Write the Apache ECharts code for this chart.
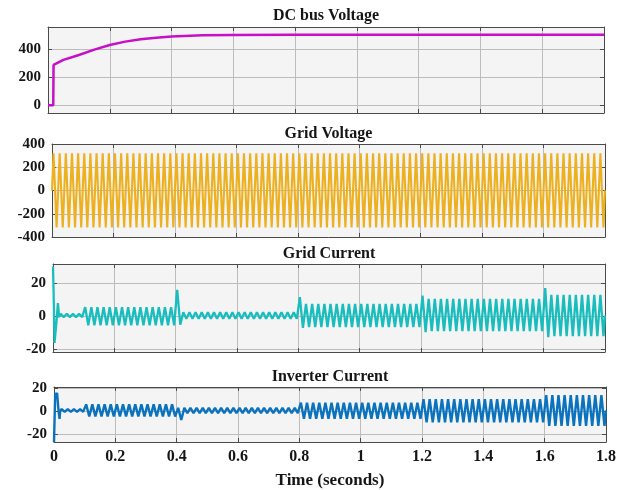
<!DOCTYPE html>
<html>
<head>
<meta charset="utf-8">
<script src="https://cdn.jsdelivr.net/npm/echarts@6/dist/echarts.min.js"></script>
<style>
html, body { margin: 0; padding: 0; background: #fff; }
#chart { width: 621px; height: 490px; }
</style>
</head>
<body>
<div id="chart"></div>
<script>
// shared time axis (seconds)
const tEnd = 1.8
const gridFreq = 50
const xTickStep = 0.2

// DC bus voltage
const dcTime = [0, 0.017, 0.018, 0.05, 0.1, 0.15, 0.2, 0.25, 0.3, 0.35, 0.4, 0.5, 0.6, 0.8, 1.8]
const dcVolt = [0, 0, 286, 322, 357, 395, 428, 452, 469, 480, 488, 497, 499, 500, 500]

// grid voltage: peak envelope per segment
const vgStart = [0]
const vgHigh = [320]
const vgLow = [-318]

// grid current: start-up transient, then peak envelope per segment
const igInitTime = [0, 0.002, 0.005, 0.009, 0.012, 0.016, 0.02]
const igInitVal = [30, 14, -16, -17, -2, 8, -0.5]
const igStart = [0.02, 0.1, 0.4, 0.8, 1.2, 1.6]
const igHigh = [1.5, 5.5, 2.5, 7.5, 10.5, 13]
const igLow = [-0.5, -5.5, -1.5, -6.5, -9, -12]
const igKickHigh = [null, null, 16, 11.5, 12.5, 17]
const igKickLow = [null, null, -5, -7, -9.5, -12.5]

// inverter current
const invInitTime = [0, 0.004, 0.007, 0.01, 0.014, 0.018, 0.02]
const invInitVal = [-26.5, 16, 11, 16, 3, -6.5, 0]
const invStart = [0.02, 0.1, 0.4, 0.8, 1.2, 1.6]
const invHigh = [2, 6, 3, 7.5, 10.5, 14]
const invLow = [-0.5, -4.5, -1.5, -6.5, -9.5, -12.5]
const invKickHigh = [null, null, null, null, null, null]
const invKickLow = [null, null, -7.5, null, null, null]

// y tick labels
const yTicksDc = [0, 200, 400]
const yTicksVg = [-400, -200, 0, 200, 400]
const yTicksI = [-20, 0, 20]

const fontFam = '"Liberation Serif", "Times New Roman", serif'
const txtColor = '#151515'
const axisColor = '#4a4a4a'
const gridColor = '#bcbcbc'

// peaks alternate high / low every half cycle
function buildWave(initT, initV, starts, highs, lows, kickHigh, kickLow) {
  const half = 1 / gridFreq / 2
  const pts = []
  initT.forEach((t, i) => pts.push([t, initV[i]]))
  starts.forEach((s, i) => {
    const e = i + 1 < starts.length ? starts[i + 1] : tEnd
    const n = Math.round((e - s) / half)
    for (let k = 0; k < n; k++) {
      let v = k % 2 === 0 ? highs[i] : lows[i]
      if (k === 0 && kickHigh[i] != null) v = kickHigh[i]
      if (k === 1 && kickLow[i] != null) v = kickLow[i]
      pts.push([+(s + half / 2 + k * half).toFixed(4), v])
    }
  })
  const last = starts.length - 1
  pts.push([tEnd, (highs[last] + lows[last]) / 2])
  return pts
}

const dcData = dcTime.map((t, i) => [t, dcVolt[i]])
const vgData = buildWave([0], [0], vgStart, vgHigh, vgLow, [null], [null])
const igData = buildWave(igInitTime, igInitVal, igStart, igHigh, igLow, igKickHigh, igKickLow)
const invData = buildWave(invInitTime, invInitVal, invStart, invHigh, invLow, invKickHigh, invKickLow)

const panels = [
  { title: 'DC bus Voltage', left: 48, right: 17, top: 27, height: 86, min: -56, max: 556, ticks: yTicksDc, data: dcData, color: '#c80fc8', width: 2.5, titleY: 17 },
  { title: 'Grid Voltage', left: 52, right: 16, top: 144, height: 93, min: -400, max: 400, ticks: yTicksVg, data: vgData, color: '#edb120', width: 2.1, titleY: 135 },
  { title: 'Grid Current', left: 53, right: 16, top: 264, height: 88, min: -21.5, max: 31.5, ticks: yTicksI, data: igData, color: '#19bdbd', width: 2.3, titleY: 255 },
  { title: 'Inverter Current', left: 54, right: 15, top: 387, height: 65, min: -26.5, max: 21, ticks: yTicksI, data: invData, color: '#0b72bd', width: 2.4, titleY: 378 }
]

const grids = []
const xAxes = []
const yAxes = []
const titles = []
const series = []

panels.forEach((p, i) => {
  grids.push({
    left: p.left, right: p.right, top: p.top, height: p.height,
    show: true, backgroundColor: '#f4f4f4', borderWidth: 0
  })
  const last = i === panels.length - 1
  xAxes.push({
    type: 'value', gridIndex: i, min: 0, max: tEnd, interval: xTickStep,
    axisLine: { show: true, onZero: false, lineStyle: { color: axisColor, width: 1 } },
    axisTick: { show: true, inside: true, length: 4, lineStyle: { color: axisColor } },
    axisLabel: {
      show: last, margin: 7, color: txtColor, fontFamily: fontFam, fontWeight: 'bold', fontSize: 16,
      formatter: v => String(Math.round(v * 10) / 10)
    },
    splitLine: { show: true, lineStyle: { color: gridColor, width: 1 } },
    name: last ? 'Time (seconds)' : '',
    nameLocation: 'middle', nameGap: 30,
    nameTextStyle: { color: txtColor, fontFamily: fontFam, fontWeight: 'bold', fontSize: 17 }
  })
  yAxes.push({
    type: 'value', gridIndex: i, min: p.min, max: p.max,
    axisLine: { show: true, lineStyle: { color: axisColor, width: 1 } },
    axisTick: { show: true, inside: true, length: 4, customValues: p.ticks, lineStyle: { color: axisColor } },
    axisLabel: {
      customValues: p.ticks, margin: 7, color: txtColor,
      fontFamily: fontFam, fontWeight: 'bold', fontSize: 15
    },
    splitLine: { show: true, lineStyle: { color: gridColor, width: 1 } }
  })
  titles.push({
    text: p.title, left: p.left + (621 - p.left - p.right) / 2, top: p.titleY - 9,
    textAlign: 'center', padding: 0,
    textStyle: { color: txtColor, fontFamily: fontFam, fontWeight: 'bold', fontSize: 16 }
  })
  series.push({
    type: 'line', xAxisIndex: i, yAxisIndex: i, data: p.data,
    showSymbol: false, symbol: 'none', clip: true,
    lineStyle: { color: p.color, width: p.width }
  })
})

// box: top and right axes with inward ticks
panels.forEach((p, i) => {
  xAxes.push({
    type: 'value', gridIndex: i, position: 'top', min: 0, max: tEnd, interval: xTickStep,
    axisLine: { show: true, onZero: false, lineStyle: { color: axisColor, width: 1 } },
    axisTick: { show: true, inside: true, length: 4, lineStyle: { color: axisColor } },
    axisLabel: { show: false }, splitLine: { show: false }
  })
  yAxes.push({
    type: 'value', gridIndex: i, position: 'right', min: p.min, max: p.max,
    axisLine: { show: true, onZero: false, lineStyle: { color: axisColor, width: 1 } },
    axisTick: { show: true, inside: true, length: 4, customValues: p.ticks, lineStyle: { color: axisColor } },
    axisLabel: { show: false }, splitLine: { show: false }
  })
})

const chart = echarts.init(document.getElementById('chart'))
chart.setOption({
  animation: false,
  backgroundColor: '#ffffff',
  title: titles,
  grid: grids,
  xAxis: xAxes,
  yAxis: yAxes,
  series: series
})
</script>
</body>
</html>
